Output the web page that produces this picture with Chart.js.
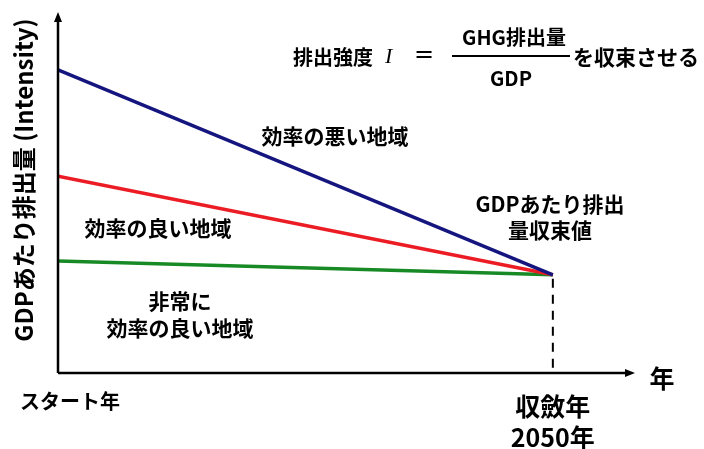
<!DOCTYPE html>
<html lang="ja">
<head>
<meta charset="utf-8">
<script src="https://cdn.jsdelivr.net/npm/chart.js@4"></script>
<style>
    html, body { margin: 0; padding: 0; background: #fff; }
    #wrap { width: 704px; height: 449px; }
</style>
</head>
<body>
<div id="wrap"><canvas id="intensityChart" width="704" height="449"></canvas></div>
<script>
// 0 = スタート年, 1 = 収斂年 (2050年)
const xPoints = [0, 1];
const badRegion = [8.4, 2.72];      // 効率の悪い地域
const goodRegion = [5.45, 2.72];    // 効率の良い地域
const veryGoodRegion = [3.1, 2.72]; // 非常に効率の良い地域
const xTickLabels = ['スタート年', ['収斂年', '2050年']];
const yTitle = 'GDPあたり排出量 (Intensity)';
const xTitle = '年';

const FONT = '"Noto Sans CJK JP", "Noto Sans", sans-serif';

function toPoints(values) {
    return values.map((v, i) => ({ x: xPoints[i], y: v }));
}

// 軸・矢印・破線・注釈を描くプラグイン
const diagram = {
    id: 'diagram',
    afterDraw(chart) {
        const { ctx, chartArea: a, scales: { x, y } } = chart;
        ctx.save();
        ctx.strokeStyle = '#000';
        ctx.fillStyle = '#000';
        ctx.lineWidth = 2.5;

        // 縦軸
        ctx.beginPath();
        ctx.moveTo(a.left, a.bottom);
        ctx.lineTo(a.left, a.top + 8);
        ctx.stroke();
        ctx.beginPath();
        ctx.moveTo(a.left, a.top);
        ctx.lineTo(a.left - 4, a.top + 10);
        ctx.lineTo(a.left + 4, a.top + 10);
        ctx.closePath();
        ctx.fill();

        // 横軸
        ctx.beginPath();
        ctx.moveTo(a.left, a.bottom);
        ctx.lineTo(a.right - 8, a.bottom);
        ctx.stroke();
        ctx.beginPath();
        ctx.moveTo(a.right, a.bottom);
        ctx.lineTo(a.right - 10, a.bottom - 4);
        ctx.lineTo(a.right - 10, a.bottom + 4);
        ctx.closePath();
        ctx.fill();

        // 収斂年の破線
        const xEnd = x.getPixelForValue(xPoints[1]);
        const yEnd = y.getPixelForValue(badRegion[1]);
        ctx.lineWidth = 2;
        ctx.setLineDash([9, 7]);
        ctx.beginPath();
        ctx.moveTo(xEnd, yEnd + 4);
        ctx.lineTo(xEnd, a.bottom);
        ctx.stroke();
        ctx.setLineDash([]);

        ctx.textAlign = 'center';
        ctx.textBaseline = 'middle';

        // 軸ラベル
        ctx.font = 'bold 20px ' + FONT;
        ctx.fillText(xTickLabels[0], x.getPixelForValue(xPoints[0]) + 12, 401);
        ctx.font = 'bold 25px ' + FONT;
        ctx.fillText(xTickLabels[1][0], xEnd, 406);
        ctx.fillText(xTickLabels[1][1], xEnd, 437);
        ctx.fillText(xTitle, 662, 378);

        ctx.save();
        ctx.translate(24, 180);
        ctx.rotate(-Math.PI / 2);
        ctx.font = 'bold 24px ' + FONT;
        ctx.fillText(yTitle, 0, 0);
        ctx.restore();

        // 領域の注釈
        ctx.font = 'bold 21px ' + FONT;
        ctx.fillText('効率の悪い地域', 335, 136);
        ctx.fillText('効率の良い地域', 158, 228);
        ctx.fillText('非常に', 180, 301);
        ctx.fillText('効率の良い地域', 180, 328);
        ctx.fillText('GDPあたり排出', 550, 204);
        ctx.fillText('量収束値', 550, 230);

        // 数式
        ctx.font = 'bold 20px ' + FONT;
        ctx.textAlign = 'left';
        ctx.fillText('排出強度', 293, 57);
        ctx.font = 'italic 22px "Liberation Serif", serif';
        ctx.fillText('I', 385, 57);
        ctx.font = '24px "DejaVu Sans", sans-serif';
        ctx.fillText('=', 414, 56);
        ctx.font = 'bold 21px ' + FONT;
        ctx.fillText('を収束させる', 573, 57);
        ctx.textAlign = 'center';
        ctx.font = 'bold 20px ' + FONT;
        ctx.fillText('GHG排出量', 514, 37);
        ctx.fillText('GDP', 511, 78);
        ctx.lineWidth = 2;
        ctx.beginPath();
        ctx.moveTo(452, 56);
        ctx.lineTo(570, 56);
        ctx.stroke();

        ctx.restore();
    }
};

new Chart(document.getElementById('intensityChart').getContext('2d'), {
    type: 'line',
    data: {
        datasets: [
            { label: '効率の悪い地域', data: toPoints(badRegion), borderColor: '#15157f' },
            { label: '効率の良い地域', data: toPoints(goodRegion), borderColor: '#ec1c24' },
            { label: '非常に効率の良い地域', data: toPoints(veryGoodRegion), borderColor: '#188a25' }
        ]
    },
    options: {
        responsive: false,
        animation: false,
        devicePixelRatio: 1,
        layout: { padding: { left: 58, right: 69, top: 12, bottom: 76 } },
        elements: {
            line: { borderWidth: 3.5, tension: 0 },
            point: { radius: 0 }
        },
        scales: {
            x: { type: 'linear', display: false, min: 0, max: 1.166 },
            y: { type: 'linear', display: false, min: 0, max: 10 }
        },
        plugins: {
            legend: { display: false },
            tooltip: { enabled: false }
        }
    },
    plugins: [diagram]
});
</script>
</body>
</html>
